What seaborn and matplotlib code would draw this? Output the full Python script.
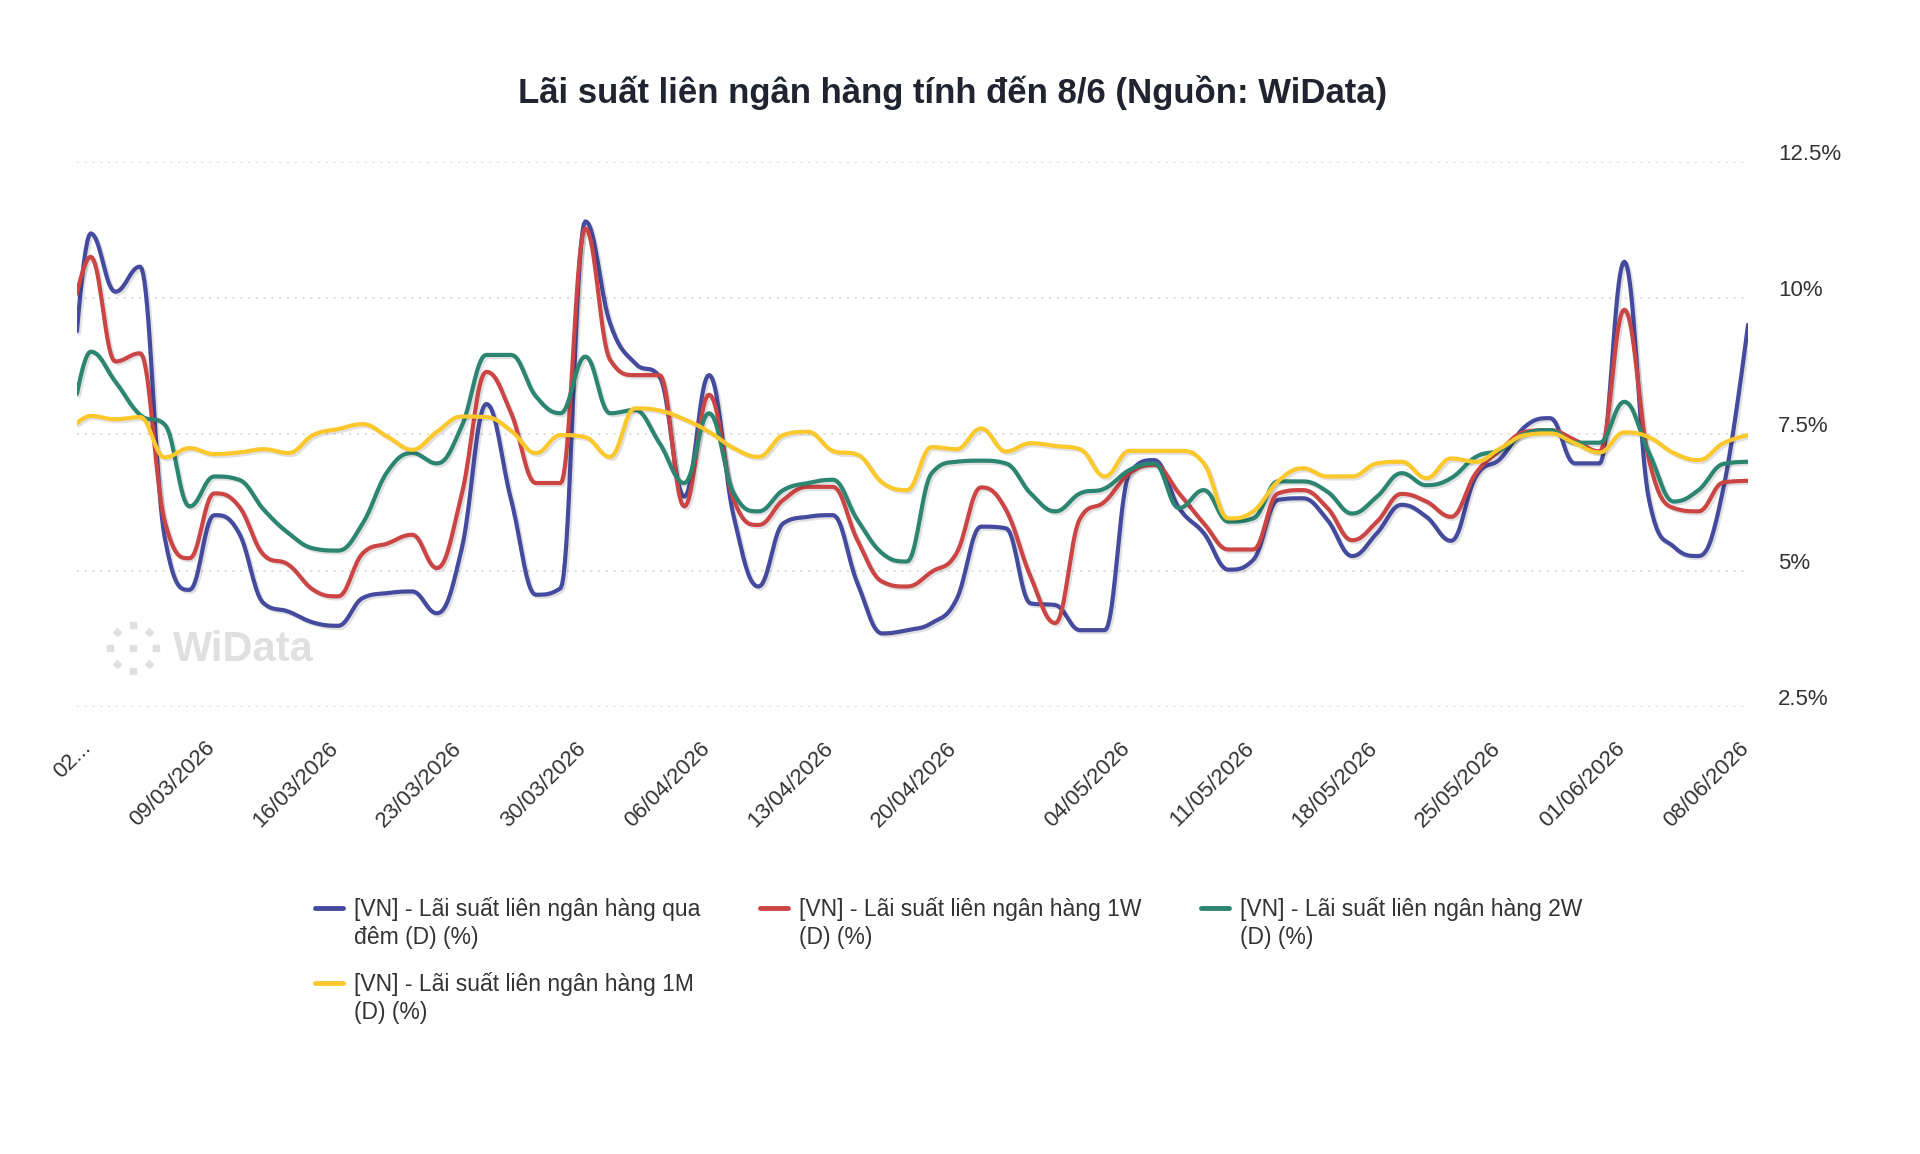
import numpy as np
import pandas as pd
import matplotlib
matplotlib.use("Agg")
import matplotlib.pyplot as plt
import matplotlib.patheffects as pe
from matplotlib.lines import Line2D
from matplotlib.legend_handler import HandlerLine2D
from matplotlib.transforms import ScaledTranslation
import seaborn as sns

# trading days; 27/02 is only partly visible at the left edge
holidays = ["2026-04-27", "2026-04-30", "2026-05-01"]
dates = pd.bdate_range("2026-02-27", "2026-06-08")
dates = dates[~dates.isin(pd.to_datetime(holidays))]

qua_dem = [6.5, 11.19, 10.12, 10.58, 5.6, 4.65, 6.02, 5.69, 4.40, 4.25, 4.05, 3.99,
           4.50, 4.59, 4.62, 4.22, 5.4, 8.06, 6.30, 4.56, 4.68, 11.41, 9.54, 8.81,
           8.56, 6.36, 8.59, 5.99, 4.71, 5.87, 5.99, 6.02, 4.77, 3.85, 3.91, 4.04,
           4.47, 5.81, 5.78, 4.40, 4.37, 3.91, 3.91, 6.79, 7.03, 6.15, 5.69, 5.02,
           5.20, 6.30, 6.33, 5.93, 5.27, 5.69, 6.21, 5.99, 5.55, 6.73, 7.06, 7.65,
           7.80, 6.97, 6.97, 10.67, 6.3, 5.44, 5.27, 6.5, 9.51]
tuan_1 = [9.0, 10.76, 8.84, 8.99, 5.9, 5.23, 6.42, 6.18, 5.29, 5.11, 4.65, 4.53,
          5.32, 5.50, 5.66, 5.05, 6.4, 8.65, 7.89, 6.61, 6.61, 11.28, 8.87, 8.59,
          8.59, 6.18, 8.23, 6.30, 5.84, 6.30, 6.54, 6.54, 5.56, 4.8, 4.71, 4.98,
          5.32, 6.53, 6.12, 4.89, 4.04, 5.96, 6.27, 6.79, 6.94, 6.42, 5.87, 5.39,
          5.39, 6.42, 6.48, 6.15, 5.56, 5.90, 6.41, 6.27, 5.99, 6.79, 7.22, 7.55,
          7.58, 7.40, 7.19, 9.79, 7.03, 6.15, 6.09, 6.62, 6.65]
tuan_2 = [7.0, 9.02, 8.47, 7.86, 7.68, 6.18, 6.73, 6.67, 6.12, 5.69, 5.41, 5.37,
          5.87, 6.82, 7.16, 6.97, 7.65, 8.96, 8.96, 8.2, 7.89, 8.93, 7.89, 7.95,
          7.34, 6.61, 7.89, 6.42, 6.09, 6.48, 6.61, 6.67, 5.93, 5.32, 5.17, 6.79,
          7.00, 7.02, 6.97, 6.42, 6.09, 6.42, 6.51, 6.85, 6.97, 6.15, 6.48, 5.90,
          5.96, 6.64, 6.64, 6.45, 6.05, 6.36, 6.79, 6.57, 6.70, 7.09, 7.22, 7.52,
          7.58, 7.35, 7.35, 8.10, 7.16, 6.27, 6.48, 6.96, 7.00]
thang_1 = [7.5, 7.84, 7.78, 7.82, 7.08, 7.25, 7.14, 7.17, 7.23, 7.16, 7.49, 7.60,
           7.69, 7.46, 7.22, 7.55, 7.83, 7.82, 7.57, 7.16, 7.49, 7.45, 7.09, 7.98,
           7.94, 7.78, 7.55, 7.25, 7.09, 7.49, 7.55, 7.20, 7.13, 6.62, 6.48, 7.27,
           7.23, 7.61, 7.19, 7.34, 7.29, 7.23, 6.73, 7.20, 7.20, 7.20, 6.97, 5.96,
           6.09, 6.64, 6.88, 6.73, 6.73, 6.97, 7.00, 6.70, 7.06, 7.00, 7.25, 7.49,
           7.52, 7.34, 7.17, 7.54, 7.45, 7.16, 7.03, 7.34, 7.49]

series_names = ["[VN] - Lãi suất liên ngân hàng qua\nđêm (D) (%)",
                "[VN] - Lãi suất liên ngân hàng 1W\n(D) (%)",
                "[VN] - Lãi suất liên ngân hàng 2W\n(D) (%)",
                "[VN] - Lãi suất liên ngân hàng 1M\n(D) (%)"]
colors = ["#444a9d", "#cc4545", "#2b8571", "#fcc82b"]
y_ticks = [2.5, 5, 7.5, 10, 12.5]
y_tick_labels = ["2.5%", "5%", "7.5%", "10%", "12.5%"]


def spline(xs, ys, n=20):
    # bezier spline in the style of the web chart (control points, no false extremes)
    xs = np.asarray(xs, float)
    ys = np.asarray(ys, float)
    N = len(xs)
    sm, den = 1.5, 2.5
    lc = np.column_stack([xs, ys]).copy()
    rc = lc.copy()
    for i in range(1, N - 1):
        px, py = xs[i], ys[i]
        lx, ly, nx, ny = xs[i - 1], ys[i - 1], xs[i + 1], ys[i + 1]
        lcx, lcy = (sm * px + lx) / den, (sm * py + ly) / den
        rcx, rcy = (sm * px + nx) / den, (sm * py + ny) / den
        corr = (rcy - lcy) * (rcx - px) / (rcx - lcx) + py - rcy
        lcy += corr
        rcy += corr
        if lcy > ly and lcy > py:
            lcy = max(ly, py); rcy = 2 * py - lcy
        elif lcy < ly and lcy < py:
            lcy = min(ly, py); rcy = 2 * py - lcy
        if rcy > ny and rcy > py:
            rcy = max(ny, py); lcy = 2 * py - rcy
        elif rcy < ny and rcy < py:
            rcy = min(ny, py); lcy = 2 * py - rcy
        lc[i] = lcx, lcy
        rc[i] = rcx, rcy
    t = np.linspace(0, 1, n)[:, None]
    pts = []
    for i in range(1, N):
        p0 = np.array([xs[i - 1], ys[i - 1]]); p3 = np.array([xs[i], ys[i]])
        p1 = rc[i - 1]; p2 = lc[i]
        seg = ((1 - t) ** 3) * p0 + 3 * ((1 - t) ** 2) * t * p1 + 3 * (1 - t) * t ** 2 * p2 + t ** 3 * p3
        pts.append(seg if i == 1 else seg[1:])
    pts = np.vstack(pts)
    return pts[:, 0], pts[:, 1]


x_idx = np.arange(len(dates))
frames = []
for name, vals in zip(series_names, [qua_dem, tuan_1, tuan_2, thang_1]):
    sx, sy = spline(x_idx, vals)
    frames.append(pd.DataFrame({"x": sx, "y": sy, "series": name}))
df = pd.concat(frames, ignore_index=True)

sns.set_theme(style="white")
plt.rcParams["font.family"] = ["Liberation Sans", "DejaVu Sans"]

fig = plt.figure(figsize=(19.2, 11.54), dpi=100)
ax = fig.add_axes([77 / 1920, 447 / 1154, 1671 / 1920, 545 / 1154])

sns.lineplot(data=df, x="x", y="y", hue="series", hue_order=series_names,
             palette=colors, sort=False, estimator=None, linewidth=3.0,
             legend=False, ax=ax)
for line in ax.lines:
    line.set_path_effects([pe.SimpleLineShadow(offset=(1.5, -1.5), alpha=0.12, shadow_color="black"),
                           pe.Normal()])
    line.set_solid_capstyle("round")

ax.set_xlim(0.45, len(dates) - 1)
ax.set_ylim(2.5, 12.5)
for s in ax.spines.values():
    s.set_visible(False)
ax.set_xlabel("")
ax.set_ylabel("")

# y axis on the right with dotted grid
ax.yaxis.tick_right()
ax.set_yticks(y_ticks)
ax.set_yticklabels(y_tick_labels)
ax.tick_params(axis="y", length=0, pad=21.5, labelsize=16, labelcolor="#333333")
for v in y_ticks:
    ax.axhline(v, color="#d9d9d9", linewidth=1.4, linestyle=(0, (1, 3)), zorder=0)
off = ScaledTranslation(0, 0.10, fig.dpi_scale_trans)
for lab in ax.get_yticklabels():
    lab.set_transform(lab.get_transform() + off)

# weekly x ticks (Mondays)
tick_pos = [i for i, d in enumerate(dates) if d.weekday() == 0]
tick_lab = [dates[i].strftime("%d/%m/%Y") for i in tick_pos]
tick_lab[0] = "02..."
ax.set_xticks(tick_pos)
ax.set_xticklabels(tick_lab, rotation=45, ha="right", va="top", rotation_mode="anchor")
ax.tick_params(axis="x", length=0, pad=22, labelsize=16, labelcolor="#333333")
xoff = ScaledTranslation(-0.10, 0, fig.dpi_scale_trans)
for lab in ax.get_xticklabels():
    lab.set_transform(lab.get_transform() + xoff)

fig.text(953 / 1920, 1 - 92 / 1154, "Lãi suất liên ngân hàng tính đến 8/6 (Nguồn: WiData)",
         ha="center", va="center", fontsize=25, fontweight="bold", color="#1f2430")

# watermark
wm = "#e0e0e0"
cx, cy, r = 133, 648, 23
for k in range(8):
    a = np.pi / 2 - k * np.pi / 4
    mk = "s" if k % 2 == 0 else "D"
    fig.add_artist(Line2D([(cx + r * np.cos(a)) / 1920], [1 - (cy - r * np.sin(a)) / 1154],
                          marker=mk, ms=5 if mk == "s" else 4.5, color=wm, ls="none",
                          transform=fig.transFigure))
fig.add_artist(Line2D([cx / 1920], [1 - cy / 1154], marker="s", ms=5, color=wm, ls="none",
                      transform=fig.transFigure))
fig.text(173 / 1920, 1 - 650 / 1154, "WiData", fontsize=30, fontweight="bold", color=wm,
         va="center", ha="left")


class FirstLineHandler(HandlerLine2D):
    def create_artists(self, legend, orig_handle, xdescent, ydescent, width, height, fontsize, trans):
        arts = super().create_artists(legend, orig_handle, xdescent, ydescent, width, height, fontsize, trans)
        for a in arts:
            a.set_ydata(np.asarray(a.get_ydata(), float) + 0.7 * fontsize)
        return arts


handles = [Line2D([0], [0], color=c, linewidth=3.5) for c in colors]
order = [0, 3, 1, 2]  # row-major look with 3 columns
leg = fig.legend([handles[i] for i in order], [series_names[i] for i in order],
                 loc="upper left", bbox_to_anchor=(315 / 1920, 1 - 897 / 1154), ncol=3,
                 frameon=False, fontsize=16.5, handlelength=1.22, handletextpad=0.48,
                 columnspacing=2.6, labelspacing=0.97, borderpad=0, borderaxespad=0,
                 labelcolor="#333333", handler_map={Line2D: FirstLineHandler()})
for txt in leg.get_texts():
    txt.set_linespacing(1.3)

fig.savefig("out.png", dpi=100, facecolor="white")
